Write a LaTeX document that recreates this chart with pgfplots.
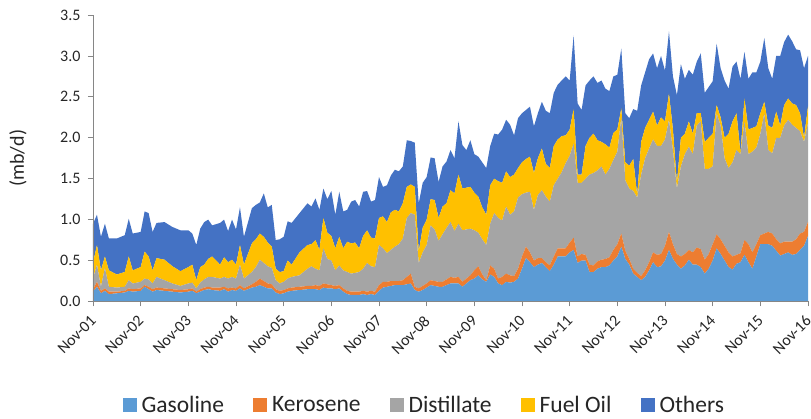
\documentclass[border=0pt]{standalone}
\usepackage{fontspec}
\setmainfont{Carlito}
\usepackage{pgfplots}
\pgfplotsset{compat=1.18}
\usepackage{pgfplotstable}
\definecolor{cGas}{HTML}{5B9BD5}
\definecolor{cKer}{HTML}{ED7D31}
\definecolor{cDis}{HTML}{A5A5A5}
\definecolor{cFue}{HTML}{FFC000}
\definecolor{cOth}{HTML}{4472C4}
\definecolor{axisgray}{HTML}{868686}
\definecolor{txt}{HTML}{262626}

% cumulative boundaries (top of each layer)
\pgfplotstableread{
m G K D F T
0 0.12 0.15 0.28 0.47 0.95
1 0.18 0.24 0.45 0.69 1.06
2 0.10 0.13 0.18 0.38 0.79
3 0.13 0.16 0.41 0.55 0.95
4 0.09 0.12 0.18 0.38 0.77
6 0.10 0.12 0.17 0.33 0.77
8 0.11 0.13 0.18 0.36 0.81
9 0.13 0.16 0.26 0.55 1.01
10 0.12 0.15 0.22 0.38 0.83
12 0.13 0.16 0.24 0.42 0.85
13 0.18 0.20 0.28 0.61 1.10
14 0.15 0.18 0.27 0.55 1.08
15 0.12 0.15 0.22 0.38 0.85
16 0.14 0.17 0.30 0.53 0.96
18 0.13 0.16 0.26 0.51 0.97
20 0.12 0.15 0.22 0.43 0.91
22 0.11 0.14 0.19 0.37 0.87
24 0.12 0.15 0.22 0.42 0.87
25 0.13 0.16 0.23 0.45 0.83
26 0.10 0.12 0.16 0.26 0.69
27 0.12 0.15 0.23 0.42 0.89
28 0.14 0.17 0.27 0.45 0.97
29 0.15 0.18 0.30 0.52 1.00
30 0.14 0.17 0.30 0.55 0.93
32 0.13 0.17 0.28 0.45 0.96
33 0.15 0.18 0.30 0.54 1.00
34 0.12 0.16 0.28 0.48 0.86
35 0.14 0.17 0.30 0.51 1.00
36 0.13 0.16 0.28 0.45 0.88
37 0.16 0.20 0.45 0.69 1.15
38 0.13 0.16 0.28 0.45 0.79
40 0.17 0.21 0.36 0.71 1.14
41 0.18 0.24 0.42 0.76 1.18
42 0.20 0.28 0.51 0.83 1.21
43 0.18 0.25 0.47 0.79 1.32
44 0.16 0.22 0.43 0.72 1.15
45 0.16 0.21 0.41 0.67 1.18
46 0.11 0.15 0.26 0.40 0.75
47 0.09 0.13 0.22 0.36 0.76
48 0.10 0.14 0.24 0.37 0.79
49 0.12 0.16 0.28 0.50 0.98
50 0.13 0.17 0.30 0.45 0.96
52 0.14 0.18 0.32 0.60 1.08
54 0.15 0.19 0.40 0.69 1.20
55 0.15 0.19 0.43 0.70 1.16
56 0.15 0.20 0.40 0.75 1.26
57 0.14 0.19 0.38 0.63 1.12
58 0.17 0.22 0.65 1.02 1.38
59 0.16 0.21 0.52 0.84 1.25
60 0.16 0.20 0.50 0.80 1.35
61 0.15 0.19 0.38 0.65 1.06
62 0.16 0.20 0.44 0.79 1.34
63 0.12 0.16 0.38 0.65 1.10
64 0.09 0.13 0.36 0.73 1.12
65 0.08 0.12 0.34 0.71 1.22
66 0.08 0.12 0.35 0.72 1.24
67 0.08 0.12 0.36 0.65 1.16
68 0.09 0.13 0.40 0.80 1.34
69 0.08 0.12 0.47 0.87 1.35
70 0.09 0.13 0.43 0.78 1.22
71 0.08 0.12 0.42 0.77 1.24
72 0.13 0.20 0.69 1.02 1.52
73 0.17 0.24 0.65 1.04 1.40
74 0.18 0.24 0.59 0.97 1.42
75 0.19 0.25 0.63 1.09 1.54
76 0.20 0.25 0.67 1.12 1.61
77 0.20 0.25 0.70 1.10 1.59
78 0.20 0.26 0.77 1.20 1.65
79 0.21 0.30 1.02 1.40 1.97
80 0.22 0.34 1.08 1.43 1.96
81 0.14 0.18 1.06 1.40 1.94
82 0.12 0.16 0.47 0.61 1.20
83 0.14 0.19 0.60 0.90 1.45
84 0.17 0.22 0.69 1.00 1.52
85 0.20 0.26 0.93 1.25 1.76
86 0.19 0.25 0.88 1.24 1.75
87 0.18 0.24 0.74 1.02 1.46
88 0.18 0.24 0.82 1.16 1.65
89 0.20 0.27 0.90 1.20 1.71
90 0.22 0.30 0.97 1.36 1.85
91 0.22 0.29 0.86 1.32 1.75
92 0.22 0.30 0.95 1.55 2.20
93 0.18 0.24 0.87 1.38 1.91
94 0.22 0.28 0.88 1.39 1.85
95 0.26 0.32 0.89 1.40 1.97
96 0.28 0.38 0.87 1.33 1.80
97 0.32 0.43 0.84 1.28 1.77
98 0.27 0.33 0.76 1.15 1.70
99 0.24 0.26 0.69 1.06 1.63
100 0.33 0.44 0.95 1.42 1.90
101 0.30 0.40 1.08 1.50 2.05
102 0.22 0.28 1.02 1.47 2.04
103 0.20 0.30 0.99 1.45 2.10
104 0.24 0.34 1.16 1.59 2.22
105 0.23 0.32 1.06 1.52 2.16
106 0.24 0.31 1.10 1.55 2.03
107 0.28 0.40 1.27 1.63 2.24
108 0.40 0.55 1.31 1.70 2.30
109 0.53 0.67 1.33 1.74 2.34
110 0.48 0.60 1.34 1.77 2.38
111 0.42 0.50 1.12 1.57 2.14
112 0.45 0.53 1.30 1.75 2.30
113 0.47 0.53 1.36 1.87 2.44
114 0.42 0.48 1.28 1.68 2.33
115 0.37 0.44 1.22 1.63 2.30
116 0.45 0.55 1.42 1.90 2.55
117 0.55 0.65 1.50 1.98 2.65
118 0.55 0.65 1.58 2.02 2.70
119 0.55 0.65 1.69 2.03 2.75
120 0.60 0.72 1.78 2.10 2.70
121 0.63 0.78 1.93 2.35 3.25
122 0.47 0.55 1.45 1.55 2.42
123 0.50 0.58 1.45 1.55 2.34
124 0.50 0.57 1.50 1.90 2.64
125 0.36 0.45 1.55 2.00 2.70
126 0.36 0.44 1.57 2.05 2.75
127 0.40 0.49 1.60 1.97 2.67
128 0.42 0.51 1.65 1.95 2.70
129 0.42 0.52 1.55 1.92 2.60
130 0.44 0.54 1.62 1.88 2.57
131 0.50 0.63 1.73 2.06 2.75
132 0.55 0.70 1.83 2.10 2.77
133 0.67 0.83 2.25 2.36 3.09
134 0.52 0.62 1.48 1.70 2.30
135 0.45 0.52 1.38 1.66 2.24
136 0.34 0.40 1.35 1.74 2.35
137 0.30 0.35 1.27 1.30 2.33
138 0.26 0.31 1.55 1.95 2.64
139 0.30 0.38 1.75 2.12 2.80
140 0.38 0.48 1.87 2.22 2.96
141 0.48 0.60 1.98 2.32 3.03
142 0.42 0.57 1.90 2.15 2.85
143 0.43 0.58 1.90 2.25 3.00
144 0.50 0.68 1.98 2.20 2.82
145 0.63 0.85 2.22 2.54 3.30
146 0.52 0.70 1.85 2.10 2.75
147 0.45 0.58 1.38 1.45 2.52
148 0.40 0.55 1.65 2.00 2.90
149 0.44 0.58 1.80 2.05 2.72
150 0.51 0.63 1.89 2.20 2.83
151 0.45 0.60 1.80 2.05 2.77
152 0.45 0.66 2.15 2.30 2.93
153 0.42 0.64 2.20 2.30 3.03
154 0.34 0.51 1.62 1.95 2.55
155 0.40 0.58 1.62 2.00 2.62
156 0.50 0.70 1.65 2.05 2.69
157 0.65 0.82 2.30 2.40 3.15
158 0.58 0.76 2.15 2.25 2.85
159 0.50 0.68 1.75 2.00 2.70
160 0.42 0.60 1.63 2.05 2.60
161 0.39 0.55 1.70 2.20 2.87
162 0.46 0.57 1.85 2.30 2.93
163 0.48 0.59 1.80 1.82 2.72
164 0.57 0.75 2.20 2.48 3.05
165 0.48 0.70 1.80 2.10 2.72
166 0.40 0.60 1.83 2.12 2.80
167 0.55 0.70 1.88 2.14 2.80
168 0.70 0.81 2.05 2.30 2.93
169 0.70 0.83 2.30 2.44 3.22
170 0.70 0.85 1.85 2.15 2.85
171 0.68 0.83 1.81 2.12 2.72
172 0.62 0.76 2.00 2.32 3.00
173 0.56 0.71 2.00 2.15 3.00
174 0.58 0.73 2.15 2.40 3.17
175 0.60 0.73 2.22 2.48 3.26
176 0.57 0.73 2.16 2.42 3.18
177 0.58 0.76 2.12 2.40 3.08
178 0.63 0.83 2.08 2.30 3.07
179 0.68 0.85 1.95 2.00 2.85
180 0.80 0.97 2.18 2.38 3.00
}\data

\begin{document}
\begin{tikzpicture}
\useasboundingbox (0,0) rectangle (811pt,419pt);
\begin{axis}[
  at={(93pt,117.5pt)}, anchor=south west,
  scale only axis, width=715pt, height=286.5pt,
  xmin=0, xmax=180, ymin=0, ymax=3.5,
  stack plots=y,
  axis x line*=bottom, axis y line*=left,
  axis line style={draw=axisgray, line width=0.8pt, -},
  tick align=outside, major tick length=5pt,
  tick style={draw=axisgray, line width=0.8pt},
  xtick={0,12,...,180},
  xticklabels={Nov-01,Nov-02,Nov-03,Nov-04,Nov-05,Nov-06,Nov-07,Nov-08,Nov-09,Nov-10,Nov-11,Nov-12,Nov-13,Nov-14,Nov-15,Nov-16},
  xticklabel style={rotate=45, anchor=north east, font=\fontsize{16}{19}\selectfont, text=txt, inner sep=1pt, xshift=-7pt, yshift=-2pt},
  ytick={0,0.5,1,1.5,2,2.5,3,3.5},
  yticklabel style={font=\fontsize{16}{19}\selectfont, text=txt, xshift=-4pt},
  /pgf/number format/assume math mode=true,
  yticklabel={\pgfmathprintnumber[fixed,fixed zerofill,precision=1]{\tick}},
  ylabel={(mb/d)},
  ylabel style={at={(axis description cs:-0.105,0.5)}, anchor=center, font=\fontsize{20}{24}\selectfont, text=txt},
  legend style={at={(axis description cs:0.464,-0.362)}, anchor=center, draw=none, fill=none,
    font=\fontsize{23.5}{28}\selectfont, text=txt,
    /tikz/every odd column/.append style={column sep=2pt},
    /tikz/every even column/.append style={column sep=26pt},
    nodes={inner xsep=3pt, inner ysep=1pt}},
  legend columns=-1,
  legend image code/.code={\path[#1] (0pt,-7pt) rectangle (14pt,7pt);},
  axis on top,
]
\addplot[fill=cGas, draw=none] table[x=m, y=G] {\data} \closedcycle;
\addplot[fill=cKer, draw=none] table[x=m, y expr=\thisrow{K}-\thisrow{G}] {\data} \closedcycle;
\addplot[fill=cDis, draw=none] table[x=m, y expr=\thisrow{D}-\thisrow{K}] {\data} \closedcycle;
\addplot[fill=cFue, draw=none] table[x=m, y expr=\thisrow{F}-\thisrow{D}] {\data} \closedcycle;
\addplot[fill=cOth, draw=none] table[x=m, y expr=\thisrow{T}-\thisrow{F}] {\data} \closedcycle;
\legend{Gasoline,Kerosene,Distillate,Fuel Oil,Others}
\end{axis}
\end{tikzpicture}
\end{document}
